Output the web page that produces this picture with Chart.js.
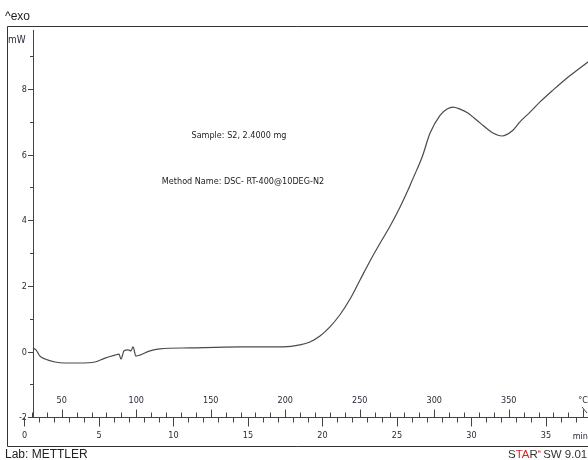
<!DOCTYPE html>
<html><head><meta charset="utf-8">
<script src="https://cdn.jsdelivr.net/npm/chart.js@4.4.1/dist/chart.umd.min.js"></script>
<style>html,body{margin:0;padding:0;background:#fff}canvas{display:block}</style>
</head><body>
<canvas id="c" width="588" height="460"></canvas>
<script>
// ---- data (time in min, heat flow in mW) ----
const timeMin = [0.57,0.77,1.04,1.38,2.05,2.72,3.72,4.73,5.40,6.07,6.34,6.48,6.68,6.95,7.15,7.28,7.48,7.75,8.42,9.09,11.11,14.46,17.35,18.49,19.16,19.83,20.5,21.17,21.85,22.52,23.19,23.86,24.53,25.2,25.74,26.07,26.68,27.22,27.89,28.36,28.76,29.23,29.7,30.57,31.44,32.05,32.72,33.25,33.93,34.6,35.47,36.41,37.28,37.82];
const heatFlow = [0.11,0.05,-0.14,-0.23,-0.32,-0.35,-0.35,-0.32,-0.2,-0.11,-0.08,-0.23,0.02,0.05,0.02,0.14,-0.14,-0.11,0.02,0.08,0.11,0.14,0.14,0.2,0.29,0.47,0.75,1.12,1.6,2.18,2.76,3.3,3.82,4.4,4.92,5.27,5.92,6.66,7.2,7.39,7.45,7.39,7.29,6.97,6.66,6.57,6.72,7.0,7.3,7.61,7.97,8.34,8.64,8.83];
const yTickLabels = [-2,0,2,4,6,8];
const yMinorTicks = [-1,1,3,5,7,9];
const timeTickLabels = [0,5,10,15,20,25,30,35];
const tempTickLabels = [50,100,150,200,250,300,350];
const annotations = ["Sample: S2, 2.4000 mg","Method Name: DSC- RT-400@10DEG-N2"];

const points = timeMin.map((t,i)=>({x:t,y:heatFlow[i]}));
const tempToTime = T => (T-25)/10;
const small = '9px "DejaVu Sans Condensed","Liberation Sans Narrow","DejaVu Sans",sans-serif';

const decor = {
  id:'decor',
  afterDraw(chart){
    const ctx = chart.ctx, xs = chart.scales.x, ys = chart.scales.y;
    const X = v=>xs.getPixelForValue(v), Y = v=>ys.getPixelForValue(v);
    ctx.save();
    // frame
    ctx.strokeStyle='#333'; ctx.lineWidth=1;
    ctx.beginPath();
    ctx.moveTo(7.5,446.5); ctx.lineTo(7.5,26.5); ctx.lineTo(588,26.5);
    ctx.moveTo(7.5,446.5); ctx.lineTo(588,446.5);
    ctx.stroke();
    const axX = 33.5, axY = Math.round(Y(-2))+0.5;
    ctx.strokeStyle='#444';
    // y axis
    ctx.beginPath(); ctx.moveTo(axX,30); ctx.lineTo(axX,axY); ctx.stroke();
    ctx.fillStyle='#2a2a3a'; ctx.font=small; ctx.textAlign='right'; ctx.textBaseline='middle';
    yTickLabels.forEach(v=>{
      const py=Math.round(Y(v))+0.5;
      ctx.beginPath(); ctx.moveTo(28,py); ctx.lineTo(axX,py); ctx.stroke();
      ctx.fillText(String(v), 27, py);
    });
    yMinorTicks.forEach(v=>{
      const py=Math.round(Y(v))+0.5;
      ctx.beginPath(); ctx.moveTo(30,py); ctx.lineTo(axX,py); ctx.stroke();
    });
    // x axis
    ctx.beginPath(); ctx.moveTo(28,axY); ctx.lineTo(588,axY); ctx.stroke();
    // time ticks (down)
    ctx.textAlign='center';
    for(let t=0;t<=37;t++){
      const px=Math.round(X(t))+0.5;
      const major = t%5===0;
      ctx.beginPath(); ctx.moveTo(px,axY); ctx.lineTo(px,axY+(major?9:5)); ctx.stroke();
    }
    timeTickLabels.forEach(t=>ctx.fillText(String(t), X(t), 436));
    // temperature ticks (up)
    for(let T=30;T<=400;T+=10){
      const px=Math.round(X(tempToTime(T)))+0.5;
      if(px>587) break;
      const major = T%50===0;
      ctx.beginPath(); ctx.moveTo(px,axY); ctx.lineTo(px,axY-(major?8:5)); ctx.stroke();
    }
    tempTickLabels.forEach(T=>ctx.fillText(String(T), X(tempToTime(T)), 401));
    ctx.textAlign='right';
    ctx.fillText('°C', 588, 401);
    ctx.fillText('min', 588, 437);
    ctx.textAlign='left';
    ctx.beginPath(); ctx.moveTo(582,407); ctx.lineTo(587,413); ctx.stroke();
    // unit labels
    ctx.font='10px "DejaVu Sans Condensed","Liberation Sans Narrow",sans-serif';
    ctx.fillText('mW', 8, 40);
    ctx.font='12px "Liberation Sans",Arial,sans-serif';
    ctx.fillStyle='#222';
    ctx.fillText('^exo', 5, 17);
    ctx.fillText('Lab: METTLER', 5, 455);
    // STARe SW 9.01
    const big='11.5px "Liberation Sans",Arial,sans-serif';
    ctx.font=big;
    let x0 = 508; const yb=455;
    const parts=[['S','#333'],['TA','#d22'],['R','#333']];
    parts.forEach(([s,c])=>{ctx.fillStyle=c; ctx.fillText(s,x0,yb); x0+=ctx.measureText(s).width;});
    ctx.fillStyle='#d22'; ctx.font='6px "Liberation Sans",Arial,sans-serif'; ctx.fillText('e',x0,yb-4); x0+=ctx.measureText('e').width+2;
    ctx.fillStyle='#333'; ctx.font=big; ctx.fillText('SW 9.01',x0,yb);
    // annotations
    ctx.font=small; ctx.fillStyle='#222'; ctx.textAlign='center';
    ctx.fillText(annotations[0], 239, 136);
    ctx.fillText(annotations[1], 243, 182);
    ctx.restore();
  }
};

new Chart(document.getElementById('c'),{
  type:'scatter',
  data:{datasets:[{data:points,showLine:true,borderColor:'#4a4a4a',borderWidth:1.2,pointRadius:0,cubicInterpolationMode:'monotone',fill:false}]},
  options:{
    responsive:false,animation:false,devicePixelRatio:1,
    layout:{padding:{left:7,top:27,right:0,bottom:14}},
    plugins:{legend:{display:false},tooltip:{enabled:false}},
    scales:{
      x:{type:'linear',display:false,min:-1.1745,max:37.819},
      y:{type:'linear',display:false,min:-2.881,max:9.893}
    }
  },
  plugins:[decor]
});
</script>
</body></html>
